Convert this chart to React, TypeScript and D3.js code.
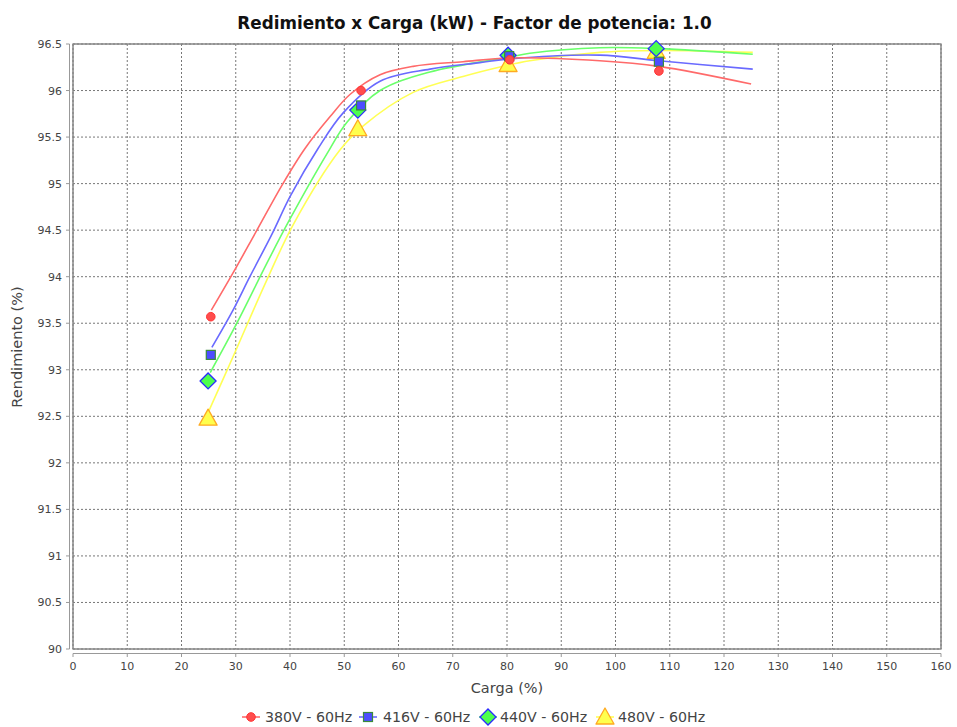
import React from "react";
import * as d3 from "d3";

const W = 957;
const H = 727;

const titleText = "Redimiento x Carga (kW) - Factor de potencia: 1.0";
const xLabel = "Carga (%)";
const yLabel = "Rendimiento (%)";

const xTicks = [0, 10, 20, 30, 40, 50, 60, 70, 80, 90, 100, 110, 120, 130, 140, 150, 160];
const yTicks = [90, 90.5, 91, 91.5, 92, 92.5, 93, 93.5, 94, 94.5, 95, 95.5, 96, 96.5];

const seriesNames = ["380V - 60Hz", "416V - 60Hz", "440V - 60Hz", "480V - 60Hz"];

// measured points
const ptX380 = [25.4, 53.1, 80.5, 108];
const ptY380 = [93.57, 96.0, 96.33, 96.21];
const ptX416 = [25.4, 53.1, 80.4, 108];
const ptY416 = [93.16, 95.84, 96.37, 96.31];
const ptX440 = [24.9, 52.5, 80.2, 107.5];
const ptY440 = [92.88, 95.79, 96.38, 96.45];
const ptX480 = [24.9, 52.5, 80.2, 107.5];
const ptY480 = [92.48, 95.59, 96.28, 96.42];

// trend curves
const cX380 = [25.5, 29.5, 33.9, 38.7, 42.8, 47.4, 51.1, 56.6, 62.7, 71.9, 80.5, 97.1, 108, 125];
const cY380 = [93.64, 94.04, 94.5, 95.0, 95.38, 95.72, 95.96, 96.17, 96.26, 96.31, 96.35, 96.32, 96.26, 96.07];
const cX416 = [25.6, 29.5, 32.6, 36.7, 40, 45.2, 49.8, 56.6, 65.8, 75, 80.5, 97.1, 108, 125.3];
const cY416 = [93.24, 93.64, 94.0, 94.46, 94.86, 95.38, 95.76, 96.1, 96.23, 96.3, 96.34, 96.38, 96.32, 96.23];
const cX440 = [25.3, 30.2, 35.7, 40, 46.8, 50.5, 56.6, 65.8, 80.5, 84.2, 97.1, 108, 125.3];
const cY440 = [92.97, 93.5, 94.14, 94.62, 95.32, 95.66, 96.0, 96.2, 96.36, 96.4, 96.46, 96.45, 96.39];
const cX480 = [24.9, 29.5, 35.7, 40.6, 49.2, 53.5, 62.7, 71.9, 79.3, 84.2, 97.1, 108, 125.3];
const cY480 = [92.54, 93.14, 93.96, 94.56, 95.36, 95.62, 95.98, 96.15, 96.26, 96.32, 96.41, 96.43, 96.41];

const lineColors = ["#ff6a6a", "#6a6aff", "#6aff6a", "#ffff55"];
const fillColors = ["#ff4d4d", "#4d4dff", "#4dff4d", "#ffff4d"];
const strokeColors = ["#ff3333", "#3b8a3b", "#2a2aff", "#ffaa22"];
const shapes = ["circle", "square", "diamond", "triangle"];

const M = { left: 73, right: 941, top: 44, bottom: 649 };

function Marker({ shape, cx, cy, fill, stroke }: any) {
  if (shape === "circle") return <circle cx={cx} cy={cy} r={4.3} fill={fill} stroke={stroke} strokeWidth={1} />;
  if (shape === "square") return <rect x={cx - 4.5} y={cy - 4.5} width={9} height={9} fill={fill} stroke={stroke} strokeWidth={1.2} />;
  if (shape === "diamond")
    return <path d={`M${cx},${cy - 8}L${cx + 8},${cy}L${cx},${cy + 8}L${cx - 8},${cy}Z`} fill={fill} stroke={stroke} strokeWidth={1.3} />;
  return <path d={`M${cx},${cy - 9}L${cx + 9},${cy + 7}L${cx - 9},${cy + 7}Z`} fill={fill} stroke={stroke} strokeWidth={1.3} strokeLinejoin="round" />;
}

export default function App() {
  const x = d3.scaleLinear().domain([0, 160]).range([M.left, M.right]);
  const y = d3.scaleLinear().domain([90, 96.5]).range([M.bottom, M.top]);
  const line = d3
    .line<[number, number]>()
    .x((d) => x(d[0]))
    .y((d) => y(d[1]))
    .curve(d3.curveCatmullRom.alpha(0.5));

  const curves = [
    d3.zip(cX380, cY380),
    d3.zip(cX416, cY416),
    d3.zip(cX440, cY440),
    d3.zip(cX480, cY480),
  ] as [number, number][][];
  const pts = [
    d3.zip(ptX380, ptY380),
    d3.zip(ptX416, ptY416),
    d3.zip(ptX440, ptY440),
    d3.zip(ptX480, ptY480),
  ] as [number, number][][];
  const order = [3, 2, 1, 0];
  const font = "DejaVu Sans, sans-serif";
  const fmt = (v: number) => String(v);

  const legendItems = [
    { marker: 251, text: 265 },
    { marker: 368, text: 383 },
    { marker: 488, text: 500 },
    { marker: 605, text: 618 },
  ];

  return (
    <svg width={W} height={H} style={{ position: "absolute", left: 0, top: 0, background: "#fff" }} fontFamily={font}>
      <rect x={0} y={0} width={W} height={H} fill="#fff" />
      <text x={474.5} y={29} textAnchor="middle" fontSize={16.8} fontWeight="bold" fill="#111">
        {titleText}
      </text>
      <rect x={M.left} y={M.top} width={M.right - M.left} height={M.bottom - M.top} fill="#fff" stroke="#888" strokeWidth={1} />
      {xTicks.map((t) => (
        <line key={"gx" + t} x1={x(t)} x2={x(t)} y1={M.top} y2={M.bottom} stroke="#777" strokeWidth={1} strokeDasharray="2,2" />
      ))}
      {yTicks.map((t) => (
        <line key={"gy" + t} x1={M.left} x2={M.right} y1={y(t)} y2={y(t)} stroke="#777" strokeWidth={1} strokeDasharray="2,2" />
      ))}
      <rect x={M.left} y={M.top} width={M.right - M.left} height={M.bottom - M.top} fill="none" stroke="#888" strokeWidth={1} />
      {/* axes */}
      <line x1={69.5} x2={69.5} y1={M.top} y2={M.bottom} stroke="#999" />
      {yTicks.map((t) => (
        <g key={"ty" + t}>
          <line x1={66} x2={69.5} y1={y(t)} y2={y(t)} stroke="#999" />
          <text x={62} y={y(t) + 4} textAnchor="end" fontSize={11} fill="#444">
            {fmt(t)}
          </text>
        </g>
      ))}
      <line x1={M.left} x2={M.right} y1={653.5} y2={653.5} stroke="#999" />
      {xTicks.map((t) => (
        <g key={"tx" + t}>
          <line x1={x(t)} x2={x(t)} y1={653.5} y2={657} stroke="#999" />
          <text x={x(t)} y={670} textAnchor="middle" fontSize={11} fill="#444">
            {fmt(t)}
          </text>
        </g>
      ))}
      <text x={(M.left + M.right) / 2} y={693} textAnchor="middle" fontSize={14.5} fill="#444">
        {xLabel}
      </text>
      <text transform={`translate(22,${347}) rotate(-90)`} textAnchor="middle" fontSize={14.5} fill="#444">
        {yLabel}
      </text>
      {/* curves */}
      <g>
        {order.map((i) => (
          <path key={"c" + i} d={line(curves[i]) || ""} fill="none" stroke={lineColors[i]} strokeWidth={1.6} />
        ))}
        {order.map((i) =>
          pts[i].map((p, j) => (
            <Marker key={"m" + i + "_" + j} shape={shapes[i]} cx={x(p[0])} cy={y(p[1])} fill={fillColors[i]} stroke={strokeColors[i]} />
          ))
        )}
      </g>
      {/* legend */}
      {legendItems.map((li, i) => (
        <g key={"l" + i}>
          <line x1={li.marker - 9} x2={li.marker + 9} y1={717} y2={717} stroke={lineColors[i]} strokeWidth={1.6} />
          <Marker shape={shapes[i]} cx={li.marker} cy={717} fill={fillColors[i]} stroke={strokeColors[i]} />
          <text x={li.text} y={722} fontSize={14.2} fill="#444">
            {seriesNames[i]}
          </text>
        </g>
      ))}
    </svg>
  );
}
